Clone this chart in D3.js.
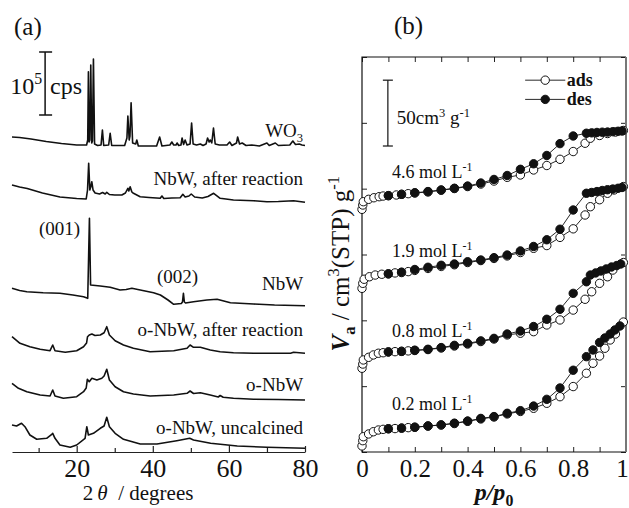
<!DOCTYPE html>
<html>
<head>
<meta charset="utf-8">
<script src="https://cdn.jsdelivr.net/npm/d3@7"></script>
<style>
  body { margin: 0; background: #fff; }
  svg { display: block; font-family: "Liberation Serif", "Times New Roman", serif; }
</style>
</head>
<body>
<div id="container"></div>
<script>
// ---- (a) XRD patterns: [2theta, stacked intensity (a.u.)] ----
const xrdWO3 = [[3,315],[5,314.5],[8,313],[12,310.5],[16,308.5],[20,307],[22.6,307],[22.9,312],[23.08,380.3],[23.25,310],[23.45,312],[23.7,387],[23.95,309],[24.15,311],[24.4,393],[24.7,308],[25.5,306.5],[26.4,307],[26.76,322],[27.1,306.5],[28.4,307],[28.8,318.7],[29.2,306.5],[32.6,306.5],[33.2,314],[33.45,336],[33.8,312],[34.0,316],[34.3,349.3],[34.7,309],[35.5,308],[35.8,312],[36.2,306],[41,306],[41.8,315],[42.4,306],[44.5,307],[45,310],[45.5,307],[46.1,307],[46.4,309],[46.8,306.5],[47.4,307],[47.7,314],[48.1,307.5],[48.5,312],[49,307],[49.8,308],[50.2,329],[50.6,308],[51.5,307],[52.5,308],[53.2,306.5],[54.0,308],[54.4,314],[54.8,310],[55.1,312],[55.5,309],[55.95,324],[56.4,308],[57.5,307],[59.5,307],[60.2,310],[60.8,306.5],[62,309],[62.3,315],[62.8,308],[63.5,309],[64.5,306.5],[66,307],[68,306],[70,309],[70.6,306.5],[72.2,309],[73,306.5],[76,307],[76.8,311],[77.5,307.5],[78.5,308],[79.2,307],[80,306.5]];
const xrdNbWAfter = [[3,267],[5,265],[7,263.5],[11,259],[15.6,255],[20,253.5],[22.5,253],[22.85,262],[23.15,288.7],[23.45,262],[23.7,265],[23.97,270.3],[24.3,262],[24.84,259],[26,258],[26.8,259.5],[27.5,258],[27.9,259.7],[28.6,257.5],[30,257],[31.87,257],[32.8,259],[33.45,263.7],[33.7,261],[34.05,265.3],[34.5,260],[34.92,258.7],[36.68,255.3],[39,254.5],[41.95,253.7],[42.4,256],[42.9,253.5],[45,254],[47.2,254.3],[47.9,257.7],[48.5,255],[49.5,256],[50.1,258],[51,255],[53,254],[54.5,255.5],[56,258.7],[57.7,253.7],[61.2,252],[66.5,251.3],[70,250.3],[73,250.5],[77,251.3],[80,249.7]];
const xrdNbW = [[3,163.7],[5,161.5],[6.9,160.3],[11.2,159.3],[15.6,158.7],[19,157],[21.8,155.3],[22.9,153.7],[23.35,233.7],[23.65,167],[26.2,166],[28.8,164.7],[31.4,162],[33,162.5],[34.5,163.7],[36.7,162],[40.2,159.3],[42,157],[44,152],[45.5,147.7],[47.5,148.5],[47.8,150],[48.05,158.7],[48.3,150],[48.6,149],[50.7,150.3],[54.2,152],[56.9,152.7],[60.4,149.3],[66.5,148],[72,147],[80,146.3]];
const xrdONbWAfter = [[3,115.3],[5.1,108.7],[7.7,105.3],[10.4,102.7],[13,101.3],[13.7,107],[14.3,101.3],[17,99.7],[20,101.3],[21.8,105.3],[22.6,109],[22.85,115.3],[23.3,117],[24,118],[24.8,116.5],[26.2,117],[27.2,119.3],[27.9,125.3],[28.6,117],[30.1,111.3],[32.3,107],[34.9,103.7],[39.3,100.3],[45.5,101.3],[49,103.7],[49.8,107],[50.7,104.7],[52.5,104.7],[55.1,102],[57.7,100.3],[61.2,99.3],[66.5,98.7],[76.2,98.7],[77,99.7],[80,98.7]];
const xrdONbW = [[3,68.7],[4.7,63.7],[6.9,60.3],[10.4,57],[13,56],[13.7,62],[14.3,56],[16.5,53.7],[20,55.3],[21.8,60.3],[22.5,64],[22.8,72.7],[23.3,70.3],[24,73.7],[25.3,72],[26.6,73.7],[27.2,76],[27.9,82.7],[28.6,72],[30.1,65.3],[32.3,60.3],[34.9,58],[39.3,56],[45.5,57],[49,58.7],[49.8,61],[50.7,58.5],[52.5,59.3],[55.1,57],[57.2,55],[57.7,56.5],[58.5,54.7],[61.2,53.7],[66.5,52.7],[73,52.5],[80,52]];
const xrdONbWUncalc = [[3,27],[4.2,26],[5.5,28.7],[6.4,25.3],[7.7,17],[9.5,12.7],[12.1,13.7],[13.45,17.7],[13.7,18.7],[14.3,13.7],[15.6,7],[18.3,4.7],[20,7],[22.2,13.7],[22.66,25.3],[23.08,17],[24.4,18.7],[26.2,23.7],[27.2,26],[27.9,34.7],[28.6,25.3],[30.1,18.7],[32.3,12.7],[36.7,8],[41.1,8],[46.3,11.3],[49.7,13.7],[50.7,12],[55.2,8.7],[62.2,6],[70,4.7],[80,3.7]];

const xrdNames = ["WO3", "NbW, after reaction", "NbW", "o-NbW, after reaction", "o-NbW", "o-NbW, uncalcined"];
const xrdTicks = [20, 40, 60, 80];
const xrdMinorTicks = [10, 30, 50, 70];

// ---- (b) N2 isotherms: [p/p0, stacked V (cm3 g-1)] ----
const iso02Ads = [[0,4.6],[0.003,8.6],[0.005,11.6],[0.025,13.7],[0.043,15.4],[0.062,16.7],[0.08,17.2],[0.1,17.7],[0.125,17.8],[0.15,18.2],[0.175,18.5],[0.2,18.8],[0.25,19.7],[0.3,20.5],[0.35,21.6],[0.4,23.3],[0.45,25.1],[0.5,26.6],[0.55,28.9],[0.6,30.8],[0.65,33.2],[0.7,37.0],[0.75,42.0],[0.8,49.7],[0.85,59.8],[0.875,67.4],[0.9,72.9],[0.92,78.8],[0.94,85.1],[0.96,89.6],[0.99,98.7]];
const iso02Des = [[0.1,17.6],[0.15,18.1],[0.2,18.8],[0.25,19.8],[0.3,20.6],[0.35,21.9],[0.4,23.5],[0.45,25.5],[0.5,26.9],[0.55,29.4],[0.6,31.4],[0.65,34.9],[0.7,40.0],[0.75,48.6],[0.8,62.1],[0.85,72.4],[0.875,77.5],[0.9,83.2],[0.92,86.6],[0.94,89.6],[0.958,92.7],[0.977,95.7]];
const iso08Ads = [[0,63.6],[0.003,66.8],[0.005,69.9],[0.025,71.9],[0.043,73.7],[0.062,75.0],[0.08,75.4],[0.1,76.0],[0.125,76.2],[0.15,76.5],[0.175,76.8],[0.2,77.1],[0.25,77.8],[0.3,79.0],[0.35,80.5],[0.4,82.0],[0.45,83.9],[0.5,85.8],[0.55,88.9],[0.6,90.2],[0.65,91.4],[0.7,96.5],[0.75,100.3],[0.8,107.8],[0.845,116.0],[0.87,121.7],[0.9,128.1],[0.93,133.1],[0.95,138.2],[0.99,143.9]];
const iso08Des = [[0.1,76.0],[0.15,76.4],[0.2,77.3],[0.25,78.0],[0.3,79.3],[0.35,81.0],[0.4,82.5],[0.45,84.4],[0.5,86.3],[0.55,89.6],[0.6,91.9],[0.65,95.3],[0.7,100.8],[0.75,108.4],[0.8,120.5],[0.85,129.3],[0.865,134.4],[0.885,136.0],[0.905,137.5],[0.925,139.0],[0.945,140.5],[0.965,141.6],[0.98,142.8]];
const iso19Ads = [[0,124.3],[0.003,128.1],[0.008,131.2],[0.028,133.1],[0.05,134.4],[0.075,135.0],[0.1,135.3],[0.125,136.0],[0.15,136.3],[0.175,137.0],[0.2,137.9],[0.25,139.4],[0.3,140.9],[0.35,142.2],[0.4,143.9],[0.45,145.4],[0.5,147.0],[0.55,148.9],[0.6,151.5],[0.65,154.7],[0.7,156.8],[0.75,163.0],[0.8,169.5],[0.845,180.0],[0.865,186.3],[0.9,191.6],[0.93,196.5],[0.955,199.0],[0.99,201.6]];
const iso19Des = [[0.1,135.3],[0.15,136.6],[0.2,138.6],[0.25,140.3],[0.3,141.8],[0.35,142.8],[0.4,144.5],[0.45,145.8],[0.5,147.6],[0.55,149.6],[0.6,152.7],[0.65,156.1],[0.7,161.2],[0.75,169.2],[0.8,183.8],[0.85,196.5],[0.87,197.1],[0.89,197.8],[0.91,198.6],[0.93,199.2],[0.95,199.7],[0.97,200.3],[0.985,200.9]];
const iso46Ads = [[0,184.3],[0.003,187.6],[0.005,190.1],[0.025,191.9],[0.045,193.1],[0.065,193.9],[0.08,194.4],[0.1,194.7],[0.13,195.2],[0.15,195.7],[0.175,196.2],[0.2,196.7],[0.25,197.5],[0.3,198.8],[0.35,200.1],[0.4,201.6],[0.45,203.5],[0.5,205.8],[0.55,208.6],[0.6,210.4],[0.65,214.2],[0.7,217.6],[0.75,222.3],[0.8,228.2],[0.845,234.5],[0.865,238.3],[0.9,240.4],[0.93,241.9],[0.96,243.0],[0.99,244.2]];
const iso46Des = [[0.1,194.7],[0.15,195.7],[0.2,196.9],[0.25,197.8],[0.3,199.0],[0.35,200.3],[0.4,202.0],[0.45,204.3],[0.5,207.0],[0.55,210.0],[0.6,214.7],[0.65,218.9],[0.7,225.2],[0.75,234.2],[0.8,240.0],[0.85,242.1],[0.87,242.4],[0.89,242.7],[0.91,242.9],[0.93,243.0],[0.95,243.3],[0.97,243.6],[0.985,243.8]];

const isoNames = ["0.2", "0.8", "1.9", "4.6"];
const pTicks = [0, 0.2, 0.4, 0.6, 0.8, 1];

const width = 629, height = 508;
const svg = d3.select("#container").append("svg")
  .attr("width", width).attr("height", height);

// small helper for sub/superscripts
function rich(text, size, parts) {
  let shift = 0;
  parts.forEach(([str, kind, bold, italic]) => {
    const off = kind === "sup" ? -0.4 * size : kind === "sub" ? 0.25 * size : 0;
    const ts = text.append("tspan").text(str);
    if (off !== shift) ts.attr("dy", off - shift);
    shift = off;
    if (kind) ts.attr("font-size", size * 0.66);
    if (bold) ts.attr("font-weight", "bold");
    if (italic) ts.attr("font-style", "italic");
  });
  return text;
}

// ================= panel (a) =================
const xA = d3.scaleLinear().domain([3, 80]).range([12, 305]);
const yA = d3.scaleLinear().domain([0, 440]).range([452, 12]);

const xrdSets = [xrdWO3, xrdNbWAfter, xrdNbW, xrdONbWAfter, xrdONbW, xrdONbWUncalc];
const lineA = d3.line().x(d => xA(d[0])).y(d => yA(d[1]));

svg.append("g").selectAll("path")
  .data(xrdSets)
  .join("path")
  .attr("fill", "none")
  .attr("stroke", "#111")
  .attr("stroke-width", 1.6)
  .attr("stroke-linejoin", "round")
  .attr("d", lineA);

// axis (a)
const axA = svg.append("g").attr("transform", `translate(0,${yA(0)})`);
axA.call(d3.axisBottom(xA).tickValues(xrdTicks).tickSize(-6).tickSizeOuter(0).tickPadding(7).tickFormat(d3.format("d")));
axA.append("g").call(d3.axisBottom(xA).tickValues(xrdMinorTicks).tickSize(-4).tickFormat(""))
  .call(g => g.select(".domain").remove());
axA.selectAll("path, line").attr("stroke", "#222").attr("stroke-width", 1.2);
axA.selectAll("text").attr("font-size", 26).attr("fill", "#111")
  .style("font-family", "Liberation Serif, serif");

// curve labels
const xrdLabelY = [315, 267, 162, 116, 61, 18];
xrdNames.forEach((n, i) => {
  const t = svg.append("text")
    .attr("x", xA(79.5)).attr("y", yA(xrdLabelY[i]))
    .attr("text-anchor", "end").attr("font-size", 19).attr("fill", "#111");
  if (i === 0) rich(t, 19, [["WO"], ["3", "sub"]]);
  else t.text(n);
});

svg.append("text").attr("x", xA(20.9)).attr("y", yA(217)).attr("text-anchor", "end")
  .attr("font-size", 19).attr("fill", "#111").text("(001)");
svg.append("text").attr("x", xA(46.5)).attr("y", yA(169)).attr("text-anchor", "middle")
  .attr("font-size", 19).attr("fill", "#111").text("(002)");

// intensity scale bar
const barX = xA(11.7);
const bar = svg.append("g").attr("stroke", "#111").attr("stroke-width", 1.5);
bar.append("line").attr("x1", barX).attr("x2", barX).attr("y1", yA(337)).attr("y2", yA(400));
[337, 400].forEach(v => bar.append("line").attr("x1", barX - 6).attr("x2", barX + 7)
  .attr("y1", yA(v)).attr("y2", yA(v)));
rich(svg.append("text").attr("x", barX - 3).attr("y", yA(358)).attr("text-anchor", "end")
  .attr("font-size", 24).attr("fill", "#111"), 24, [["10"], ["5", "sup"]]);
svg.append("text").attr("x", barX + 5).attr("y", yA(358))
  .attr("font-size", 24).attr("fill", "#111").text("cps");

svg.append("text").attr("x", 14).attr("y", 35).attr("font-size", 25).attr("fill", "#111").text("(a)");

rich(svg.append("text").attr("x", 138).attr("y", 500).attr("text-anchor", "middle")
  .attr("font-size", 21).attr("fill", "#111"), 21,
  [["2"], ["\u2009\u03B8", "", false, true], ["\u2002/ degrees"]]);

// ================= panel (b) =================
const xB = d3.scaleLinear().domain([0, 1]).range([362, 626]);
const yB = d3.scaleLinear().domain([0, 300]).range([452, 57]);

const pAll = d3.range(11).map(i => i / 10);
const vTicks = d3.range(0, 301, 50);

const axB = svg.append("g").attr("class", "axb");
axB.append("g").attr("transform", `translate(0,${yB(0)})`)
  .call(d3.axisBottom(xB).tickValues(pAll).tickSize(-5).tickPadding(7)
    .tickFormat(d => pTicks.some(t => Math.abs(t - d) < 1e-9) ? d3.format("~g")(d) : ""))
  .call(g => g.selectAll(".tick").filter(d => d === 1).select("text").attr("dx", -4));
axB.append("g").attr("transform", `translate(0,${yB(300)})`)
  .call(d3.axisTop(xB).tickValues(pAll).tickSize(-5).tickFormat(""));
axB.append("g").attr("transform", `translate(${xB(0)},0)`)
  .call(d3.axisLeft(yB).tickValues(vTicks).tickSize(-5).tickFormat(""));
axB.append("g").attr("transform", `translate(${xB(1)},0)`)
  .call(d3.axisRight(yB).tickValues(vTicks).tickSize(-5).tickFormat(""));
axB.selectAll(".domain").remove();
axB.selectAll("line").attr("stroke", "#222").attr("stroke-width", 1);
axB.selectAll("text").attr("font-size", 25).attr("fill", "#111")
  .style("font-family", "Liberation Serif, serif");

// frame
svg.append("path")
  .attr("d", `M${xB(1)},${yB(300)}H${xB(0)}V${yB(0)}H${xB(1)}`)
  .attr("fill", "none").attr("stroke", "#111").attr("stroke-width", 1.2);
svg.append("line").attr("x1", xB(1)).attr("x2", xB(1)).attr("y1", yB(300)).attr("y2", yB(0))
  .attr("stroke", "#777").attr("stroke-width", 2);

const isotherms = [
  { ads: iso02Ads, des: iso02Des },
  { ads: iso08Ads, des: iso08Des },
  { ads: iso19Ads, des: iso19Des },
  { ads: iso46Ads, des: iso46Des }
];
const lineB = d3.line().x(d => xB(d[0])).y(d => yB(d[1]));
const plotB = svg.append("g");

isotherms.forEach(iso => {
  plotB.append("path").datum(iso.ads).attr("d", lineB)
    .attr("fill", "none").attr("stroke", "#111").attr("stroke-width", 0.9);
  plotB.append("path").datum(iso.des).attr("d", lineB)
    .attr("fill", "none").attr("stroke", "#111").attr("stroke-width", 0.9);
});
isotherms.forEach(iso => {
  plotB.append("g").selectAll("circle").data(iso.ads).join("circle")
    .attr("cx", d => xB(d[0])).attr("cy", d => yB(d[1])).attr("r", 4.2)
    .attr("fill", "#fff").attr("stroke", "#111").attr("stroke-width", 1);
});
isotherms.forEach(iso => {
  plotB.append("g").selectAll("circle").data(iso.des).join("circle")
    .attr("cx", d => xB(d[0])).attr("cy", d => yB(d[1])).attr("r", 4.2)
    .attr("fill", "#111").attr("stroke", "#111").attr("stroke-width", 1);
});

// isotherm labels
const isoLabelV = [32, 87.5, 148, 208];
isoNames.forEach((n, i) => {
  rich(svg.append("text").attr("x", xB(0.114)).attr("y", yB(isoLabelV[i]))
    .attr("font-size", 18).attr("fill", "#111"), 18,
    [[n + " mol L"], ["-1", "sup"]]);
});

// volume scale bar
const sbX = xB(0.098);
const sb = svg.append("g").attr("stroke", "#111").attr("stroke-width", 1.2);
sb.append("line").attr("x1", sbX).attr("x2", sbX).attr("y1", yB(232.4)).attr("y2", yB(282.4));
[232.4, 282.4].forEach(v => sb.append("line").attr("x1", sbX - 5).attr("x2", sbX + 5)
  .attr("y1", yB(v)).attr("y2", yB(v)));
rich(svg.append("text").attr("x", sbX + 9).attr("y", yB(249))
  .attr("font-size", 19).attr("fill", "#111"), 19,
  [["50cm"], ["3", "sup"], [" g", ""], ["-1", "sup"]]);

// legend
const legend = svg.append("g");
[["ads", "#fff", 282.4], ["des", "#111", 267.8]].forEach(([lab, fill, v]) => {
  const yy = yB(v);
  legend.append("line").attr("x1", xB(0.618)).attr("x2", xB(0.77)).attr("y1", yy).attr("y2", yy)
    .attr("stroke", "#111").attr("stroke-width", 0.9);
  legend.append("circle").attr("cx", xB(0.694)).attr("cy", yy).attr("r", 4.2)
    .attr("fill", fill).attr("stroke", "#111");
  legend.append("text").attr("x", xB(0.776)).attr("y", yy + 6)
    .attr("font-size", 18).attr("font-weight", "bold").attr("fill", "#111").text(lab);
});

svg.append("text").attr("x", 394).attr("y", 34).attr("font-size", 25).attr("fill", "#111").text("(b)");

// axis titles (b)
rich(svg.append("text").attr("x", xB(0.5)).attr("y", 500).attr("text-anchor", "middle")
  .attr("font-size", 24).attr("font-weight", "bold").attr("fill", "#111"), 24,
  [["p/p", "", true, true], ["0", "sub", true]]);

rich(svg.append("text").attr("transform", `translate(349,${yB(143)}) rotate(-90)`)
  .attr("text-anchor", "middle").attr("font-size", 25).attr("fill", "#111"), 25,
  [["V", "", true, true], ["a", "sub", true], [" / cm"], ["3", "sup"], ["(STP) g"], ["-1", "sup"]]);
</script>
</body>
</html>
